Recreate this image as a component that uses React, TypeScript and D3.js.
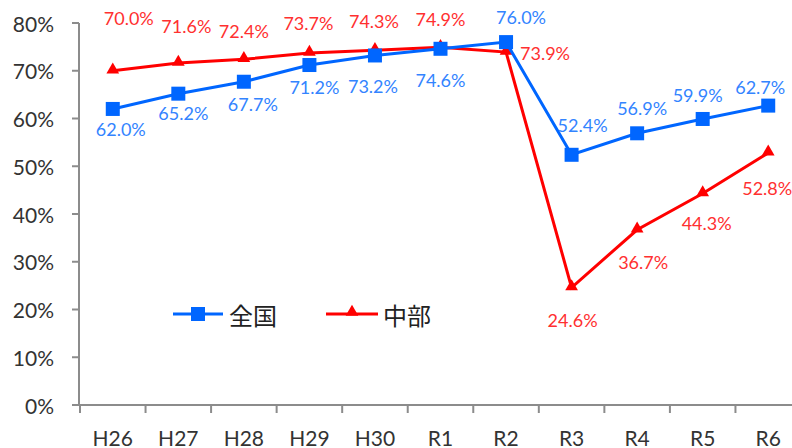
import React from "react"
import * as d3 from "d3"

const categories = ["H26", "H27", "H28", "H29", "H30", "R1", "R2", "R3", "R4", "R5", "R6"]
const zenkoku = [62.0, 65.2, 67.7, 71.2, 73.2, 74.6, 76.0, 52.4, 56.9, 59.9, 62.7]
const chubu = [70.0, 71.6, 72.4, 73.7, 74.3, 74.9, 73.9, 24.6, 36.7, 44.3, 52.8]
const yTicks = [0, 10, 20, 30, 40, 50, 60, 70, 80]

// label placement (manually nudged like the source chart)
const zenkokuLabelOffset = [[8, 20], [5, 19], [9, 22], [5, 22], [-2, 31], [0, 31], [15, -25], [11, -30], [5, -25], [-5, -24], [-8, -19]]
const chubuLabelOffset = [[16, -53], [8, -37], [0, -28], [-1, -30], [-1, -29], [0, -28], [39, 1], [1, 32], [6, 32], [4, 30], [-1, 35]]

const width = 792
const height = 448
const font = "Lato, 'DejaVu Sans', sans-serif"
const cjkFont = "'Noto Sans CJK JP', sans-serif"

const blue = "#0066ff"
const blueText = "#3384ff"
const red = "#ff0000"
const redText = "#ff3030"
const axisColor = "#8c8c8c"

export default function App() {
  const x = d3.scaleBand().domain(categories).range([80, 801]).padding(0)
  const y = d3.scaleLinear().domain([0, 80]).range([405, 23])
  const cx = (c: string) => (x(c) as number) + x.bandwidth() / 2

  const line = d3
    .line<number>()
    .x((d, i) => cx(categories[i]))
    .y(d => y(d))

  const tri = d3.symbol().type(d3.symbolTriangle).size(70)

  return (
    <svg width={width} height={height} style={{ position: "absolute", left: 0, top: 0, background: "#fff" }}>
      {/* y axis */}
      <line x1={79} x2={79} y1={y(80)} y2={y(0)} stroke={axisColor} strokeWidth={2} />
      {yTicks.map(t => (
        <g key={t}>
          <line x1={72} x2={79} y1={y(t)} y2={y(t)} stroke={axisColor} strokeWidth={2} />
          <text x={54} y={y(t)} textAnchor="end" dominantBaseline="central" fontFamily={font} fontSize={21} fill="#333">
            {t}%
          </text>
        </g>
      ))}
      {/* x axis */}
      <line x1={79} x2={width} y1={y(0)} y2={y(0)} stroke={axisColor} strokeWidth={2} />
      {categories.map(c => (
        <g key={c}>
          <line x1={x(c)} x2={x(c)} y1={y(0)} y2={y(0) + 8} stroke={axisColor} strokeWidth={2} />
          <text x={cx(c)} y={437} textAnchor="middle" dominantBaseline="central" fontFamily={font} fontSize={21} fill="#333">
            {c}
          </text>
        </g>
      ))}

      {/* 中部 */}
      <path d={line(chubu) as string} fill="none" stroke={red} strokeWidth={3} />
      {chubu.map((v, i) => (
        <path key={i} d={tri() as string} transform={`translate(${cx(categories[i])},${y(v) - 1})`} fill={red} />
      ))}
      {/* 全国 */}
      <path d={line(zenkoku) as string} fill="none" stroke={blue} strokeWidth={3} />
      {zenkoku.map((v, i) => (
        <rect key={i} x={cx(categories[i]) - 7} y={y(v) - 7} width={14} height={14} fill={blue} />
      ))}

      {/* data labels */}
      {zenkoku.map((v, i) => (
        <text
          key={i}
          x={cx(categories[i]) + zenkokuLabelOffset[i][0]}
          y={y(v) + zenkokuLabelOffset[i][1]}
          textAnchor="middle"
          dominantBaseline="central"
          fontFamily={font}
          fontSize={18}
          fill={blueText}
        >
          {v.toFixed(1)}%
        </text>
      ))}
      {chubu.map((v, i) => (
        <text
          key={i}
          x={cx(categories[i]) + chubuLabelOffset[i][0]}
          y={y(v) + chubuLabelOffset[i][1]}
          textAnchor="middle"
          dominantBaseline="central"
          fontFamily={font}
          fontSize={18}
          fill={redText}
        >
          {v.toFixed(1)}%
        </text>
      ))}

      {/* legend */}
      <g>
        <line x1={173} x2={223} y1={314} y2={314} stroke={blue} strokeWidth={3} />
        <rect x={191} y={307} width={14} height={14} fill={blue} />
        <text x={229} y={314} dominantBaseline="central" fontFamily={cjkFont} fontSize={24} fill="#222">全国</text>
        <line x1={326} x2={378} y1={314} y2={314} stroke={red} strokeWidth={3} />
        <path d={tri() as string} transform="translate(352,312)" fill={red} />
        <text x={383} y={314} dominantBaseline="central" fontFamily={cjkFont} fontSize={24} fill="#222">中部</text>
      </g>
    </svg>
  )
}
